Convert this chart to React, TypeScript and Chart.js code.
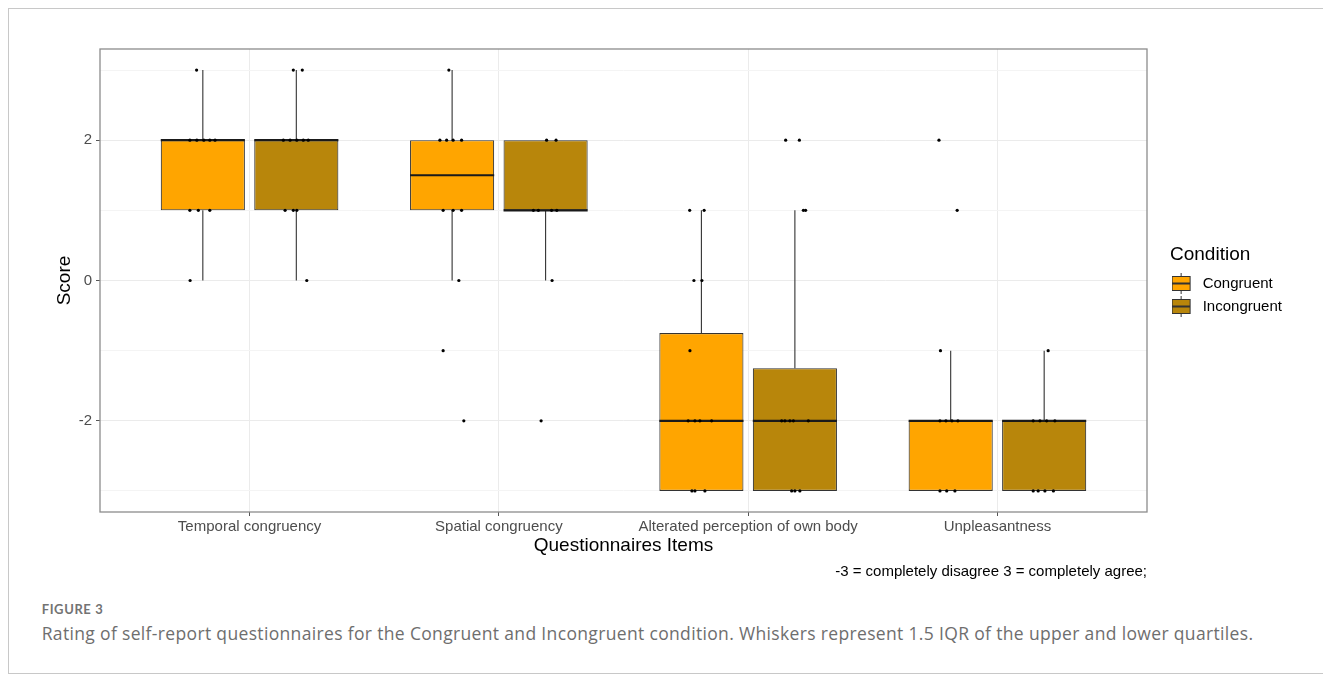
import React, { useEffect, useRef } from "react";
import { Chart, registerables } from "chart.js";

Chart.register(...registerables);

// ---------- data ----------
const categories = [
  "Temporal congruency",
  "Spatial congruency",
  "Alterated perception of own body",
  "Unpleasantness",
];
const conditions = ["Congruent", "Incongruent"];
const conditionColors = ["#FFA500", "#B8860B"];

// [lower whisker, Q1, median, Q3, upper whisker] per category
const congruentStats = [
  [0, 1, 2, 2, 3],
  [0, 1, 1.5, 2, 3],
  [-3, -3, -2, -0.75, 1],
  [-3, -3, -2, -2, -1],
];
const incongruentStats = [
  [0, 1, 2, 2, 3],
  [0, 1, 1, 2, 2],
  [-3, -3, -2, -1.25, 1],
  [-3, -3, -2, -2, -1],
];

// jittered observations: [score, horizontal jitter] per category
const congruentPoints = [
  [[3, -0.025], [2, -0.052], [2, -0.024], [2, 0.004], [2, 0.028], [2, 0.049], [1, -0.052], [1, -0.018], [1, 0.028], [0, -0.051]],
  [[3, -0.013], [2, -0.049], [2, -0.022], [2, 0.004], [2, 0.038], [1, -0.036], [1, 0.004], [1, 0.038], [0, 0.027], [-1, -0.036], [-2, 0.047]],
  [[1, -0.047], [1, 0.011], [0, -0.03], [0, 0.002], [-1, -0.046], [-2, -0.053], [-2, -0.026], [-2, -0.006], [-2, 0.041], [-3, -0.038], [-3, -0.026], [-3, 0.014]],
  [[2, -0.047], [1, 0.026], [-1, -0.041], [-2, -0.043], [-2, -0.019], [-2, 0.005], [-2, 0.029], [-3, -0.043], [-3, -0.016], [-3, 0.017]],
];
const incongruentPoints = [
  [[3, -0.012], [3, 0.024], [2, -0.052], [2, -0.025], [2, 0.002], [2, 0.028], [2, 0.048], [1, -0.045], [1, -0.012], [1, 0.002], [0, 0.042]],
  [[2, 0.004], [2, 0.042], [1, -0.049], [1, -0.029], [1, 0.024], [1, 0.045], [0, 0.026], [-2, -0.018]],
  [[2, -0.037], [2, 0.018], [1, 0.034], [1, 0.043], [-2, -0.053], [-2, -0.04], [-2, -0.02], [-2, -0.006], [-2, 0.054], [-3, -0.013], [-3, 0.0], [-3, 0.02]],
  [[-1, 0.016], [-2, -0.044], [-2, -0.017], [-2, 0.01], [-2, 0.043], [-3, -0.044], [-3, -0.024], [-3, 0.003], [-3, 0.037]],
];

const yLabelTicks = [-2, 0, 2];
const yGridValues = [-3, -2, -1, 0, 1, 2, 3];
const yRange = [-3.3, 3.3];
const xRange = [0.4, 4.6];

const xTitle = "Questionnaires Items";
const yTitle = "Score";
const legendTitle = "Condition";
const noteText = "-3 = completely disagree 3 = completely agree;";
const figureLabel = "FIGURE 3";
const captionText =
  "Rating of self-report questionnaires for the Congruent and Incongruent condition. Whiskers represent 1.5 IQR of the upper and lower quartiles.";

// ---------- layout constants ----------
const DODGE = 0.1875;
const BOX_HALF = 0.16875;
const FONT = "'Liberation Sans', Arial, Helvetica, sans-serif";

function makeIcon(color: string): HTMLCanvasElement {
  const c = document.createElement("canvas");
  c.width = 30;
  c.height = 22;
  const g = c.getContext("2d")!;
  g.strokeStyle = "#333";
  g.lineWidth = 1;
  g.beginPath();
  g.moveTo(9.5, 0);
  g.lineTo(9.5, 4);
  g.moveTo(9.5, 17);
  g.lineTo(9.5, 21);
  g.stroke();
  g.fillStyle = color;
  g.fillRect(0.5, 3.5, 18, 14);
  g.strokeRect(0.5, 3.5, 18, 14);
  g.lineWidth = 2;
  g.beginPath();
  g.moveTo(0.5, 10.5);
  g.lineTo(18.5, 10.5);
  g.stroke();
  return c;
}

const panelBorder = {
  id: "panelBorder",
  afterDatasetsDraw(chart: any) {
    const { ctx, chartArea: a } = chart;
    ctx.save();
    ctx.strokeStyle = "#8c8c8c";
    ctx.lineWidth = 1.3;
    ctx.strokeRect(a.left, a.top, a.right - a.left, a.bottom - a.top);
    ctx.restore();
  },
};

export default function App() {
  const ref = useRef<HTMLCanvasElement | null>(null);

  useEffect(() => {
    document.body.style.overflow = "hidden";
    const statsByCond = [congruentStats, incongruentStats];
    const pointsByCond = [congruentPoints, incongruentPoints];
    const offsets = [-DODGE, DODGE];

    const boxDatasets = conditions.map((name, ci) => ({
      type: "bar",
      label: name,
      order: 2,
      data: statsByCond[ci].map((s, i) => ({ x: i + 1 + offsets[ci], y: [s[1], s[3]] })),
      backgroundColor: conditionColors[ci],
      borderColor: "#333333",
      borderWidth: 1.1,
      borderSkipped: false,
      grouped: false,
      categoryPercentage: 1,
      barPercentage: 0.9,
    }));

    const whiskerData: any[] = [];
    const medianData: any[] = [];
    statsByCond.forEach((stats, ci) =>
      stats.forEach((s, i) => {
        const cx = i + 1 + offsets[ci];
        whiskerData.push({ x: cx, y: s[3] }, { x: cx, y: s[4] }, { x: cx, y: null });
        whiskerData.push({ x: cx, y: s[0] }, { x: cx, y: s[1] }, { x: cx, y: null });
        medianData.push({ x: cx - BOX_HALF, y: s[2] }, { x: cx + BOX_HALF, y: s[2] }, { x: cx, y: null });
      })
    );

    const pointDatasets = conditions.map((name, ci) => ({
      type: "scatter",
      label: name + " points",
      order: 0,
      data: pointsByCond[ci].flatMap((pts, i) =>
        pts.map(([score, jit]) => ({ x: i + 1 + offsets[ci] + jit, y: score }))
      ),
      pointRadius: 1.6,
      pointBackgroundColor: "#000",
      pointBorderWidth: 0,
    }));

    const icons = conditionColors.map(makeIcon);

    const chart = new Chart(ref.current!, {
      type: "bar",
      data: {
        datasets: [
          ...pointDatasets,
          {
            type: "line",
            label: "medians",
            order: 1,
            data: medianData,
            borderColor: "#1a1a1a",
            borderWidth: 2.2,
            pointRadius: 0,
            spanGaps: false,
          },
          ...boxDatasets,
          {
            type: "line",
            label: "whiskers",
            order: 3,
            data: whiskerData,
            borderColor: "#333333",
            borderWidth: 1.1,
            pointRadius: 0,
            spanGaps: false,
          },
        ] as any,
      },
      options: {
        responsive: false,
        animation: false,
        events: [],
        layout: { padding: { left: 44.6, top: 40, right: 21, bottom: 7.65 } },
        scales: {
          x: {
            type: "linear",
            min: xRange[0],
            max: xRange[1],
            offset: false,
            afterBuildTicks: (s: any) => {
              s.ticks = categories.map((_, i) => ({ value: i + 1 }));
            },
            afterFit: (s: any) => {
              s.height = 45.2;
            },
            grid: {
              color: "#ebebeb",
              lineWidth: 1,
              offset: false,
              drawTicks: true,
              tickLength: 4,
              tickWidth: 1,
              tickColor: "#555",
            },
            border: { display: false },
            ticks: {
              autoSkip: false,
              maxRotation: 0,
              padding: 2,
              color: "#4d4d4d",
              font: { family: FONT, size: 15 },
              callback: (v: any) => categories[Math.round(v) - 1] ?? "",
            },
            title: {
              display: true,
              text: xTitle,
              color: "#000",
              font: { family: FONT, size: 19 },
              padding: { top: 0, bottom: 0 },
            },
          },
          y: {
            type: "linear",
            min: yRange[0],
            max: yRange[1],
            afterBuildTicks: (s: any) => {
              s.ticks = yGridValues.map((v) => ({ value: v }));
            },
            afterFit: (s: any) => {
              s.width = 46.4;
            },
            grid: {
              color: (c: any) => (yLabelTicks.includes(c.tick?.value) ? "#ebebeb" : "#f4f4f4"),
              lineWidth: 1,
              drawTicks: true,
              tickLength: 4,
              tickWidth: 1,
              tickColor: (c: any) => (yLabelTicks.includes(c.tick?.value) ? "#555" : "rgba(0,0,0,0)"),
            },
            border: { display: false },
            ticks: {
              autoSkip: false,
              padding: 4,
              color: "#4d4d4d",
              font: { family: FONT, size: 15 },
              callback: (v: any) => (yLabelTicks.includes(v) ? String(v) : ""),
            },
            title: {
              display: true,
              text: yTitle,
              color: "#000",
              font: { family: FONT, size: 19 },
              padding: { top: 0, bottom: 0 },
            },
          },
          gap: {
            type: "linear",
            position: "right",
            display: true,
            grid: { display: false, drawTicks: false },
            border: { display: false },
            ticks: { display: false },
            afterFit: (s: any) => {
              s.width = 23;
            },
          },
        } as any,
        plugins: {
          tooltip: { enabled: false },
          title: { display: false },
          subtitle: {
            display: true,
            text: noteText,
            position: "bottom",
            align: "end",
            fullSize: false,
            color: "#000",
            font: { family: FONT, size: 15, weight: "normal" },
            padding: { top: 6.15, bottom: 0 },
          },
          legend: {
            display: true,
            position: "right",
            align: "center",
            fullSize: false,
            maxWidth: 118,
            title: {
              display: true,
              text: legendTitle,
              position: "start",
              color: "#000",
              font: { family: FONT, size: 19 },
              padding: { top: 7.2, bottom: 0 },
            },
            labels: {
              usePointStyle: true,
              pointStyleWidth: 17.2,
              padding: 8,
              color: "#000",
              font: { family: FONT, size: 15 },
              generateLabels: () =>
                conditions.map((c, i) => ({
                  text: c,
                  pointStyle: icons[i],
                  fillStyle: conditionColors[i],
                  strokeStyle: "#333",
                  lineWidth: 1,
                  hidden: false,
                  fontColor: "#000",
                  rotation: 0,
                  datasetIndex: pointDatasets.length + 1 + i,
                })),
            },
          },
        } as any,
      },
      plugins: [panelBorder],
    } as any);

    return () => chart.destroy();
  }, []);

  return (
    <div
      style={{
        position: "relative",
        width: 1323,
        height: 666,
        boxSizing: "border-box",
        borderTop: "1px solid #c8c8c8",
        borderLeft: "1px solid #c8c8c8",
        borderBottom: "1px solid #c8c8c8",
      }}
    >
      <canvas
        ref={ref}
        width={1300}
        height={580}
        style={{ position: "absolute", left: 0, top: 0, width: 1300, height: 580 }}
      />
      <div
        style={{
          position: "absolute",
          left: 32.7,
          top: 593.5,
          fontFamily: "Lato, 'Open Sans', sans-serif",
          fontWeight: 700,
          fontSize: 13,
          lineHeight: "13px",
          letterSpacing: 0.6,
          color: "#737373",
          whiteSpace: "nowrap",
        }}
      >
        {figureLabel}
      </div>
      <div
        style={{
          position: "absolute",
          left: 32.7,
          top: 616,
          fontFamily: "'Open Sans', sans-serif",
          fontSize: 17.5,
          lineHeight: "17.5px",
          letterSpacing: 0.34,
          color: "#6e6e6e",
          whiteSpace: "nowrap",
        }}
      >
        {captionText}
      </div>
    </div>
  );
}
